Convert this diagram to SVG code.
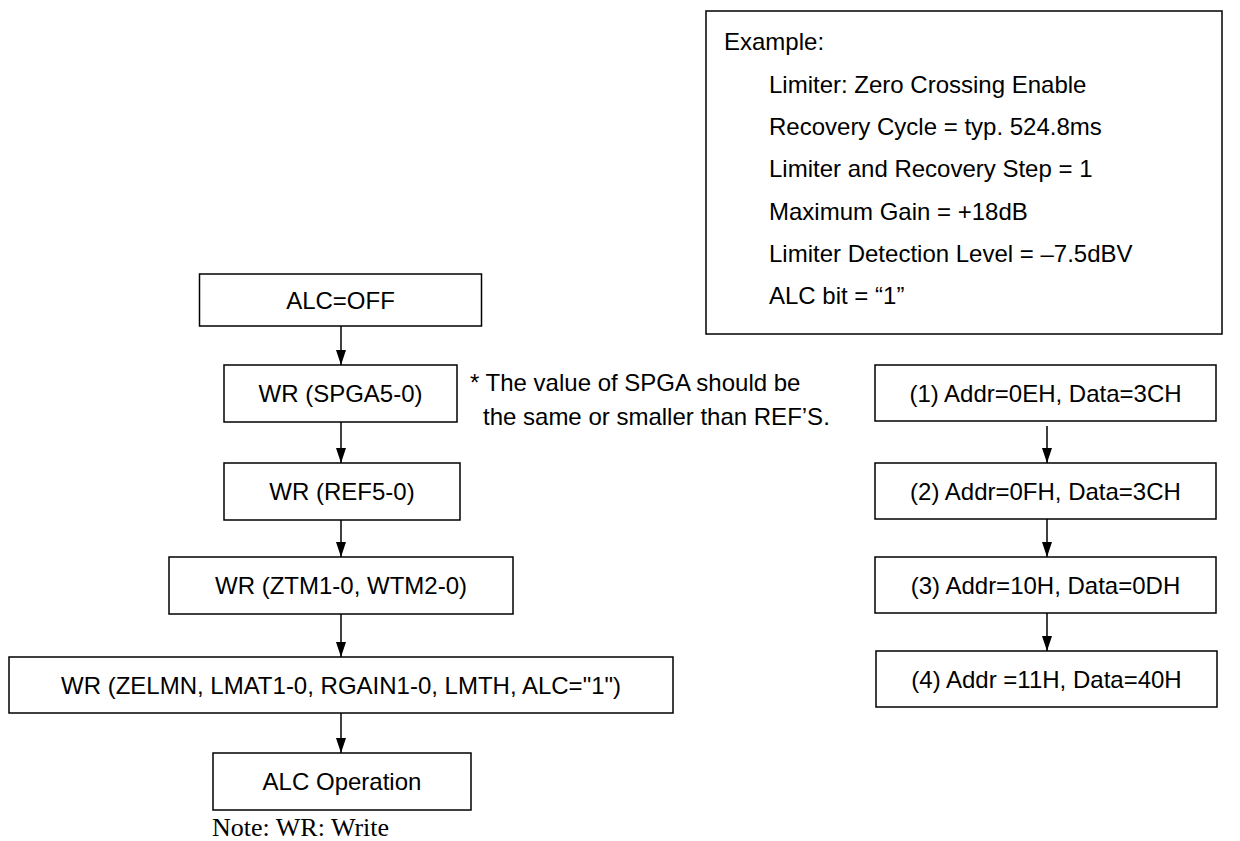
<svg xmlns="http://www.w3.org/2000/svg" width="1240" height="841" viewBox="0 0 1240 841">
<defs>
<marker id="ah" markerWidth="15" markerHeight="10" refX="15" refY="5" orient="auto" markerUnits="userSpaceOnUse" viewBox="0 0 15 10">
<polygon points="0,0 15,5 0,10" fill="#000"/>
</marker>
<style>
rect.box{fill:#fff;stroke:#000;stroke-width:1.5}
text{font-family:"Liberation Sans",Arial,sans-serif;font-size:24px;fill:#000}
text.c{text-anchor:middle}
text.note{font-family:"Liberation Serif","Times New Roman",serif;font-size:26px}
line.conn{stroke:#000;stroke-width:1.5;marker-end:url(#ah)}
</style>
</defs>
<rect width="1240" height="841" fill="#fff"/>
<g id="connectors">
<line class="conn" x1="341" y1="326" x2="341" y2="365"/>
<line class="conn" x1="341" y1="422" x2="341" y2="463"/>
<line class="conn" x1="341" y1="520" x2="341" y2="557"/>
<line class="conn" x1="341" y1="614" x2="341" y2="657"/>
<line class="conn" x1="341" y1="713" x2="341" y2="753"/>
<line class="conn" x1="1047" y1="426" x2="1047" y2="463"/>
<line class="conn" x1="1047" y1="519" x2="1047" y2="557"/>
<line class="conn" x1="1047" y1="613" x2="1047" y2="651"/>
</g>
<g id="alc-off"><rect class="box" x="199.5" y="274" width="282" height="52"/><text class="c" x="340.5" y="308.5">ALC=OFF</text></g>
<g id="wr-spga"><rect class="box" x="224" y="365" width="233" height="57"/><text class="c" x="340.5" y="402">WR (SPGA5-0)</text></g>
<g id="wr-ref"><rect class="box" x="224" y="463" width="236" height="57"/><text class="c" x="342" y="500">WR (REF5-0)</text></g>
<g id="wr-ztm"><rect class="box" x="169" y="557" width="344" height="57"/><text class="c" x="341" y="594">WR (ZTM1-0, WTM2-0)</text></g>
<g id="wr-zelmn"><rect class="box" x="9" y="657" width="664" height="56"/><text class="c" x="341" y="693.5">WR (ZELMN, LMAT1-0, RGAIN1-0, LMTH, ALC="1")</text></g>
<g id="alc-op"><rect class="box" x="213" y="753" width="258" height="57"/><text class="c" x="342" y="790">ALC Operation</text></g>
<g id="note-wr"><text class="note" x="212" y="835.5">Note: WR: Write</text></g>
<g id="note-spga">
<text x="470" y="391">* The value of SPGA should be</text>
<text x="483" y="425">the same or smaller than REF’S.</text>
</g>
<g id="example">
<rect class="box" x="706" y="11" width="516" height="323"/>
<text x="724" y="50">Example:</text>
<text x="769" y="92.5">Limiter: Zero Crossing Enable</text>
<text x="769" y="135">Recovery Cycle = typ. 524.8ms</text>
<text x="769" y="177">Limiter and Recovery Step = 1</text>
<text x="769" y="219.5">Maximum Gain = +18dB</text>
<text x="769" y="262">Limiter Detection Level = –7.5dBV</text>
<text x="769" y="303.5">ALC bit = “1”</text>
</g>
<g id="step1"><rect class="box" x="875" y="365" width="341" height="56"/><text class="c" x="1045.5" y="401.5">(1) Addr=0EH, Data=3CH</text></g>
<g id="step2"><rect class="box" x="875" y="463" width="341" height="56"/><text class="c" x="1045.5" y="499.5">(2) Addr=0FH, Data=3CH</text></g>
<g id="step3"><rect class="box" x="875" y="557" width="341" height="56"/><text class="c" x="1045.5" y="593.5">(3) Addr=10H, Data=0DH</text></g>
<g id="step4"><rect class="box" x="876" y="651" width="341" height="56"/><text class="c" x="1046.5" y="687.5">(4) Addr =11H, Data=40H</text></g>
</svg>
